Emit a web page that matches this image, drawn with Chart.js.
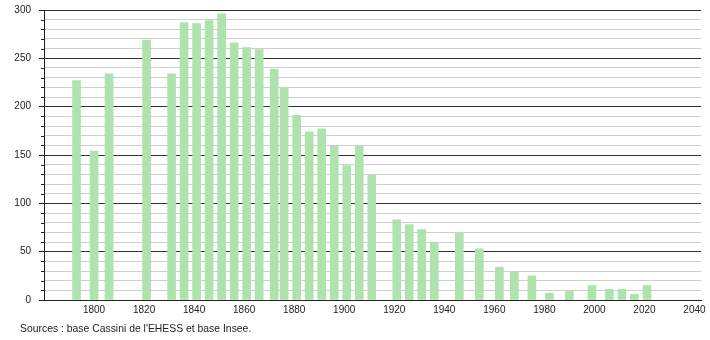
<!DOCTYPE html>
<html>
<head>
<meta charset="utf-8">
<script src="https://cdn.jsdelivr.net/npm/chart.js@4"></script>
<style>
  body { margin: 0; background: #fff; }
  #wrap { position: relative; width: 710px; height: 340px; }
  #source { position: absolute; left: 20px; top: 323px; font: 10.4px "Liberation Sans", Arial, sans-serif; color: #222; }
</style>
</head>
<body>
<div id="wrap">
  <canvas id="popChart" width="710" height="340"></canvas>
  <div id="source">Sources : base Cassini de l'EHESS et base Insee.</div>
</div>
<script>
// Census years and population
const years = [1793, 1800, 1806, 1821, 1831, 1836, 1841, 1846, 1851, 1856, 1861, 1866, 1872, 1876,
  1881, 1886, 1891, 1896, 1901, 1906, 1911, 1921, 1926, 1931, 1936, 1946, 1954, 1962, 1968,
  1975, 1982, 1990, 1999, 2006, 2011, 2016, 2021];
const population = [227, 154, 234, 269, 234, 287, 286, 289, 296, 266, 261, 259, 239, 219,
  191, 174, 177, 159, 139, 159, 129, 83, 78, 73, 60, 69, 53, 34, 29,
  25, 7, 9, 15, 11, 11, 6, 15];
const xTicks = [1800, 1820, 1840, 1860, 1880, 1900, 1920, 1940, 1960, 1980, 2000, 2020, 2040];
const yLabels = [0, 50, 100, 150, 200, 250, 300];

const font = { family: "'Liberation Sans', Arial, sans-serif", size: 10 };

// short tick marks for the minor (every 10) steps on the y axis
const minorTicks = {
  id: "minorTicks",
  afterDraw(chart) {
    const y = chart.scales.y;
    const ctx = chart.ctx;
    ctx.save();
    ctx.strokeStyle = "#222";
    ctx.lineWidth = 1;
    y.ticks.forEach(t => {
      if (t.value % 50 === 0) return;
      const py = Math.round(y.getPixelForValue(t.value)) + 0.5;
      ctx.beginPath();
      ctx.moveTo(y.right - 3, py);
      ctx.lineTo(y.right, py);
      ctx.stroke();
    });
    ctx.restore();
  }
};

new Chart(document.getElementById("popChart").getContext("2d"), {
  type: "bar",
  data: {
    datasets: [{
      data: years.map((yr, i) => ({ x: yr, y: population[i] })),
      backgroundColor: "#aee3ae",
      borderWidth: 0,
      barThickness: 8
    }]
  },
  options: {
    responsive: false,
    animation: false,
    layout: { padding: { top: 10, right: 9, left: 0, bottom: 0 } },
    plugins: { legend: { display: false }, tooltip: { enabled: false } },
    scales: {
      x: {
        type: "linear",
        offset: false,
        min: 1780,
        max: 2042.6,
        grid: { display: false, drawTicks: false },
        border: { display: true, color: "#222", width: 1 },
        afterBuildTicks: s => { s.ticks = xTicks.map(v => ({ value: v })); },
        afterFit: s => { s.height = 40; },
        ticks: { font, color: "#222", padding: 4, autoSkip: false, maxRotation: 0, callback: v => String(v) }
      },
      y: {
        min: 0,
        max: 300,
        grid: {
          color: c => (c.tick.value % 50 === 0 ? "#333" : "#cfcfcf"),
          tickColor: c => (c.tick.value % 50 === 0 ? "#222" : "rgba(0,0,0,0)"),
          tickLength: 5
        },
        border: { display: true, color: "#222", width: 1 },
        afterFit: s => { s.width = 44; s.paddingTop = 0; s.paddingBottom = 0; },
        ticks: {
          stepSize: 10,
          autoSkip: false,
          font,
          color: "#222",
          padding: 8,
          callback: v => (yLabels.includes(v) ? String(v) : "")
        }
      }
    }
  },
  plugins: [minorTicks]
});
</script>
</body>
</html>
